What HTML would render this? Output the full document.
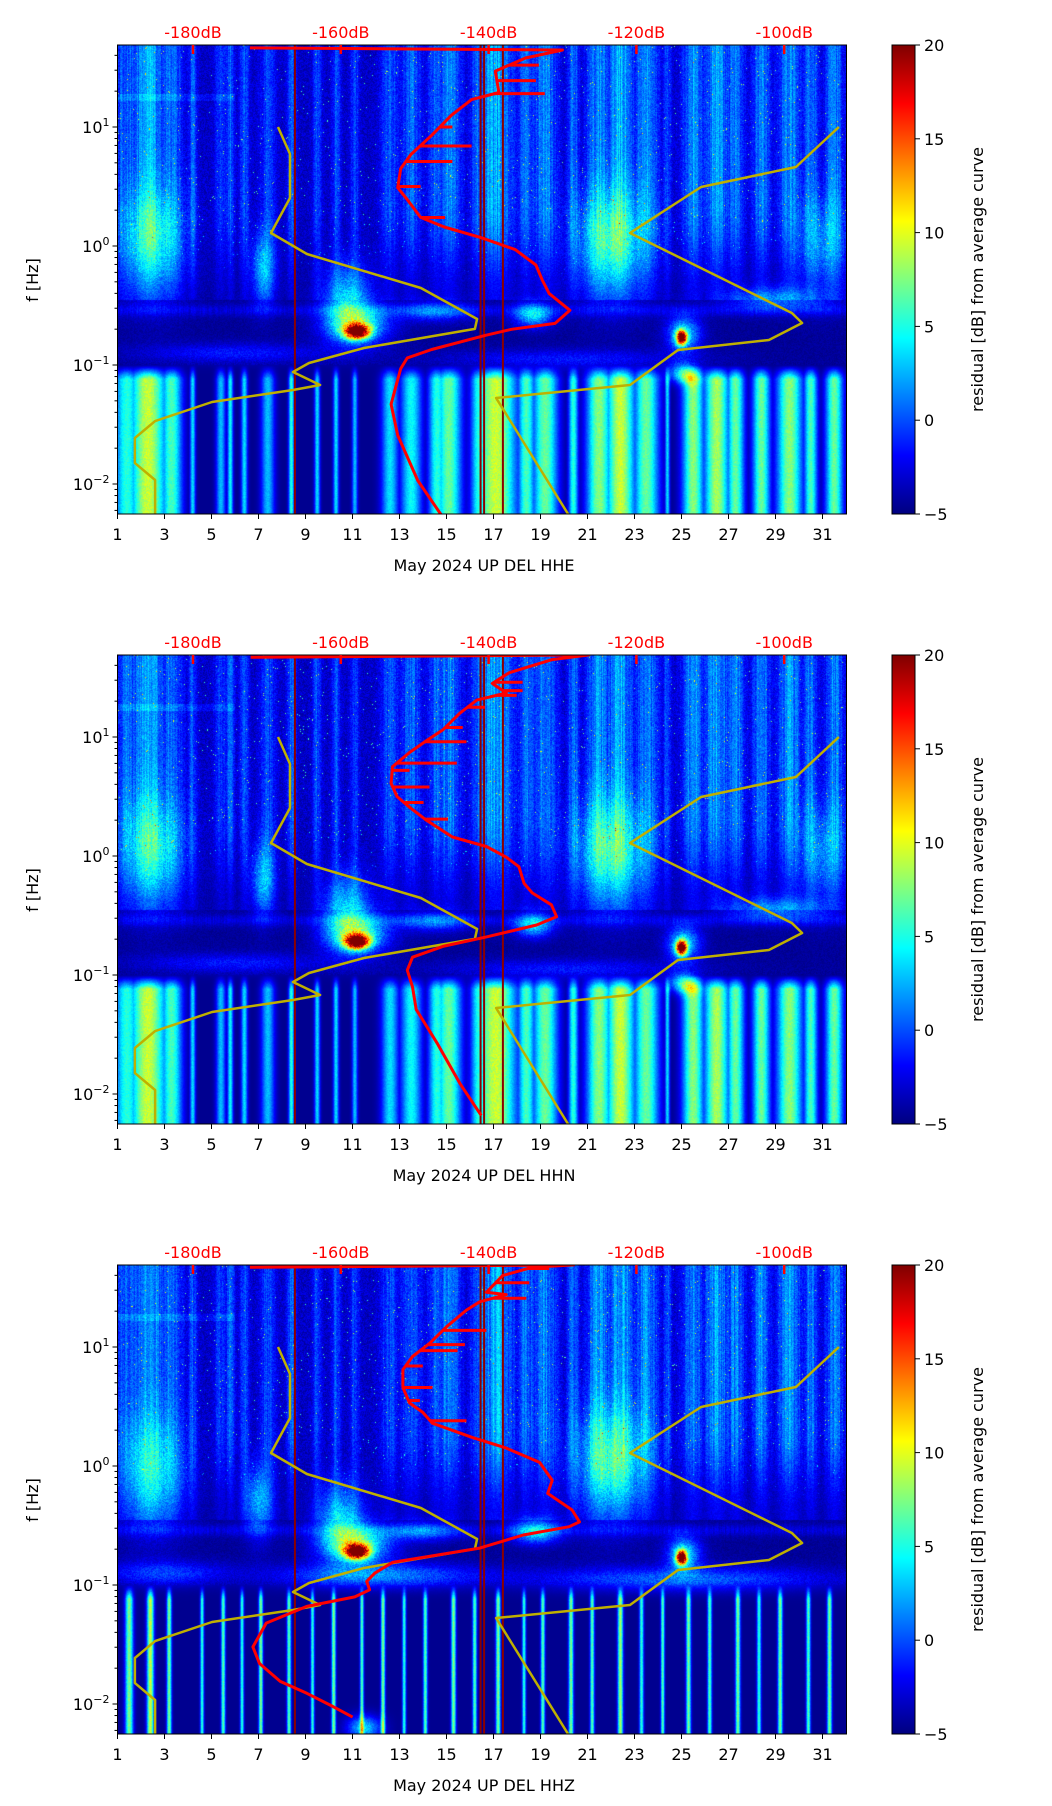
<!DOCTYPE html>
<html><head><meta charset="utf-8">
<style>
html,body{margin:0;padding:0;background:#fff;}
#wrap{position:relative;width:1052px;height:1806px;overflow:hidden;font-family:"DejaVu Sans","Liberation Sans",sans-serif;}
canvas{position:absolute;}
svg{position:absolute;left:0;top:0;}
</style></head>
<body>
<div id="wrap">
<canvas id="c0" width="730" height="469" style="left:117px;top:45px"></canvas>
<canvas id="c1" width="730" height="469" style="left:117px;top:655px"></canvas>
<canvas id="c2" width="730" height="469" style="left:117px;top:1265px"></canvas>
<svg id="svg" width="1052" height="1806" xmlns="http://www.w3.org/2000/svg">
<defs>
<linearGradient id="jet" x1="0" y1="0" x2="0" y2="1">
<stop offset="0" stop-color="#7f0000"/><stop offset="0.125" stop-color="#ff0000"/>
<stop offset="0.375" stop-color="#ffff00"/><stop offset="0.625" stop-color="#00ffff"/>
<stop offset="0.875" stop-color="#0000ff"/><stop offset="1" stop-color="#00007f"/>
</linearGradient>
</defs>
</svg>
</div>
<script>
// ---------- data ----------
const panelTitles = ["May 2024 UP DEL  HHE", "May 2024 UP DEL  HHN", "May 2024 UP DEL  HHZ"];
const dayTicks = [1,3,5,7,9,11,13,15,17,19,21,23,25,27,29,31];
const dbTicks = [-180,-160,-140,-120,-100];
const cbTicks = [20,15,10,5,0,-5];
const decadeTicks = [1,0,-1,-2];

const stripeDay1 = [1.4,2.3,3.3,4.2,5.4,5.8,6.4,7.4,8.4,9.5,10.3,11.1,12.6,13.5,14.6,15.1,16.4,17.1,18.4,19.2,20.4,21.5,22.4,23.5,24.4,25.5,26.5,27.3,28.4,29.6,30.5,31.5];
const stripeW1   = [0.3,0.45,0.25,0.05,0.1,0.05,0.06,0.15,0.05,0.05,0.05,0.05,0.2,0.25,0.2,0.3,0.2,0.5,0.2,0.3,0.1,0.3,0.35,0.3,0.04,0.25,0.3,0.2,0.2,0.3,0.15,0.2];
const stripeV1   = [12,17,13,10,9,11,10,9,12,10,10,9,10,11,12,14,12,17,13,14,12,15,17,14,10,15,16,14,14,15,13,14];
const stripeDay3 = [1.5,2.4,3.2,4.6,5.5,6.3,7.1,8.3,9.3,10.2,11.4,12.3,13.2,14.1,15.3,16.2,17.2,18.3,19.1,20.3,21.2,22.4,23.3,24.2,25.3,26.2,27.4,28.3,29.2,30.4,31.3];
const stripeW3   = [0.12,0.1,0.06,0.04,0.05,0.04,0.05,0.05,0.04,0.05,0.04,0.05,0.04,0.05,0.06,0.05,0.06,0.04,0.05,0.06,0.05,0.07,0.05,0.04,0.06,0.05,0.06,0.05,0.06,0.05,0.06];
const stripeV3   = [12,14,12,10,11,10,12,11,10,12,11,12,10,11,12,11,12,10,11,12,11,13,10,11,12,11,12,10,12,11,12];

const blobDay1 = [2.5,7.2,10.8,11.2,11.2,14.5,18.7,22.0,25.0,25.1,25.1,29.0,31.0,6.0,20.0];
const blobLf1  = [0.0,-0.2,-0.45,-0.72,-0.66,-0.55,-0.58,0.0,-0.77,-0.74,-1.07,-0.45,0.0,-0.9,-0.95];
const blobSd1  = [1.3,0.5,1.0,0.5,1.3,1.5,0.8,1.5,0.22,0.7,0.6,2.0,1.0,4.0,5.0];
const blobSf1  = [0.45,0.3,0.3,0.06,0.15,0.08,0.1,0.45,0.06,0.15,0.08,0.1,0.4,0.08,0.08];
const blobA1   = [6,6,7,24,9,5,8,7,24,8,9,5,4,3,3];
const blobDay3 = [2.5,7.0,10.5,11.2,11.2,14.0,18.8,22.0,25.0,25.1,12.0,25.0,11.5,3.0];
const blobLf3  = [-0.1,-0.3,-0.45,-0.72,-0.66,-0.55,-0.55,0.0,-0.77,-0.74,-0.92,-0.95,-2.2,-0.9];
const blobSd3  = [1.3,0.6,1.0,0.5,1.4,1.5,1.0,1.5,0.22,0.7,4.0,6.0,0.7,2.5];
const blobSf3  = [0.45,0.3,0.3,0.06,0.15,0.08,0.1,0.45,0.06,0.15,0.1,0.1,0.1,0.1];
const blobA3   = [6,6,7,24,10,5,8,7,24,8,6,5,8,4];

const vlineDays = [8.55,16.45,16.6,17.4];

const redDB1 = [-172.3,-130.0,-135,-139.1,-138.6,-142.3,-145,-147.7,-150.5,-151.9,-152.3,-151,-149.2,-146,-141,-136.4,-133.6,-132.7,-131.8,-129,-131,-136.9,-140.4,-147.7,-151,-151.9,-152.5,-153.2,-152.3,-149.6,-146.4];
const redLF1 = [1.665,1.647,1.58,1.47,1.29,1.23,1.10,0.93,0.77,0.65,0.49,0.39,0.24,0.16,0.07,-0.03,-0.16,-0.29,-0.40,-0.54,-0.65,-0.70,-0.75,-0.87,-0.94,-1.03,-1.17,-1.33,-1.59,-1.97,-2.26];
const spikeLF1 = [1.52,1.39,1.28,1.0,0.84,0.71,0.50,0.24];
const spikeDB1 = [-133.2,-133.6,-132.4,-144.9,-142.3,-144.9,-149.2,-145.9];

const redDB2 = [-172.2,-126.4,-131.4,-137.2,-139.5,-137.6,-141.6,-143.9,-146.2,-148.4,-150.7,-153.0,-153.2,-152.4,-150.7,-148.4,-144.9,-140.3,-137.6,-135.9,-135.2,-134.1,-131.5,-130.8,-133.5,-140.3,-146.2,-150.3,-151.0,-150.3,-149.8,-147.0,-143.9,-141.0];
const redLF2 = [1.67,1.69,1.65,1.54,1.45,1.37,1.31,1.20,1.06,0.97,0.87,0.75,0.61,0.50,0.41,0.30,0.16,0.08,-0.01,-0.09,-0.23,-0.31,-0.41,-0.51,-0.58,-0.68,-0.76,-0.85,-0.96,-1.10,-1.29,-1.57,-1.91,-2.18];
const spikeLF2 = [1.46,1.39,1.35,1.25,1.08,0.96,0.78,0.58,0.72,0.45,0.31];
const spikeDB2 = [-135.4,-135.4,-136.2,-140.5,-143.5,-143.0,-144.3,-148.0,-150.7,-148.8,-145.5];

const redDB3 = [-172.3,-128.5,-134.1,-138.1,-140.3,-137.6,-141.2,-143.0,-145.7,-148.0,-150.3,-151.6,-151.6,-150.7,-148.9,-147.6,-142.2,-137.6,-133.1,-131.4,-132.0,-128.7,-127.7,-129.1,-135.3,-141.2,-153.0,-155.4,-156.5,-156.1,-158.1,-164.6,-170.1,-171.9,-171.0,-168.2,-164.6,-161.1,-158.4];
const redLF3 = [1.67,1.69,1.67,1.60,1.46,1.44,1.38,1.31,1.17,1.03,0.92,0.81,0.66,0.53,0.45,0.36,0.24,0.15,0.03,-0.12,-0.23,-0.37,-0.47,-0.51,-0.58,-0.69,-0.81,-0.90,-0.97,-1.04,-1.10,-1.18,-1.32,-1.52,-1.66,-1.81,-1.91,-2.02,-2.11];
const spikeLF3 = [1.66,1.54,1.41,1.14,1.02,0.97,0.84,0.66,0.55,0.38];
const spikeDB3 = [-131.8,-134.5,-134.9,-140.3,-143.2,-144.2,-148.9,-147.6,-149.3,-143.0];

const yelDayA = [7.83,8.34,8.34,7.53,9.06,13.91,16.30,16.21,11.49,9.15,8.47,9.62,8.47,5.02,2.60,1.74,1.74,2.60,2.60];
const yelLfA  = [1.0,0.773,0.403,0.109,-0.067,-0.353,-0.613,-0.697,-0.857,-0.983,-1.059,-1.168,-1.210,-1.311,-1.471,-1.613,-1.824,-1.966,-2.26];
const yelDayB = [31.70,29.87,25.83,22.81,29.70,30.13,28.72,24.85,22.81,17.11,20.26];
const yelLfB  = [1.0,0.664,0.496,0.109,-0.563,-0.647,-0.790,-0.874,-1.168,-1.277,-2.28];

// ---------- scales ----------
const L = 117.5, W = 729, H = 469;
const TOPS = [45, 655, 1265];
const LFMAX = 1.689, LFMIN = -2.252;
function xDay(d){ return L + (d-1)*23.5; }
function yLf(lf, top){ return top + (LFMAX-lf)/(LFMAX-LFMIN)*H; }
function xDB(db){ return 193 + (db+180)*7.39; }
function yCb(v, top){ return top + H - (v+5)/25*H; }

// ---------- background spectrogram ----------
function hash(x,y){ let h = (x*374761393 + y*668265263) | 0; h = (h ^ (h>>>13)) * 1274126177 | 0; h = h ^ (h>>>16); return (h>>>0)/4294967296; }
function jet(t){
  t = Math.max(0, Math.min(1, t));
  const c = v => Math.max(0, Math.min(1, v));
  return [c(1.5-Math.abs(4*t-3))*255, c(1.5-Math.abs(4*t-2))*255, c(1.5-Math.abs(4*t-1))*255];
}
function drawSpec(idx){
  const cv = document.getElementById('c'+idx), ctx = cv.getContext('2d');
  const img = ctx.createImageData(730, 469);
  const low3 = idx===2;
  const sD = low3 ? stripeDay3 : stripeDay1, sW = low3 ? stripeW3 : stripeW1, sV = low3 ? stripeV3 : stripeV1;
  const bD = low3 ? blobDay3 : blobDay1, bL = low3 ? blobLf3 : blobLf1, bS = low3 ? blobSd3 : blobSd1, bF = low3 ? blobSf3 : blobSf1, bA = low3 ? blobA3 : blobA1;
  const colS = [], colH = [], colN = [];
  for (let px=0; px<730; px++){
    const d = 1 + (px+117-L+0.5)/23.5;
    let s=0, sh=0;
    const wm = low3 ? 1.0 : 1.5;
    for (let k=0;k<sD.length;k++){ const u=(d-sD[k])/(sW[k]*wm+0.03); if (Math.abs(u)<4){ const e=sV[k]*Math.exp(-u*u*0.8); if(e>s)s=e; } }
    for (let k=0;k<stripeDay1.length;k++){ const u=(d-stripeDay1[k])/(stripeW1[k]*1.4+0.12); if (Math.abs(u)<3){ const e=stripeV1[k]*Math.exp(-u*u); if(e>sh)sh=e; } }
    colS.push(s*(low3?1.0:0.82)); colH.push(sh); colN.push(hash(px*7+idx, 99));
  }
  for (let py=0; py<469; py++){
    const lf = LFMAX - (py+0.5)/H*(LFMAX-LFMIN);
    for (let px=0; px<730; px++){
      const d = 1 + (px+117-L+0.5)/23.5;
      const h = hash(px+idx*1000, py);
      let hi = -3.3 + 0.33*colH[px]*(0.7+0.6*colN[px]) + (h-0.5)*2.4;
      if (h > 0.994) hi += 8;
      if (lf > 1.22 && lf < 1.28 && d < 6) hi += 1.2;
      let v;
      if (lf > 0.35){
        v = hi;
      } else if (lf > -0.45){
        const f = (lf+0.45)/0.8, ff = f*f*(3-2*f);
        v = ff*hi + (1-ff)*(-4.0 + (h-0.5)*1.2 + 0.12*colH[px]);
      } else if (lf > -1.0){
        v = -4.4 + (h-0.5)*1.0 + 2.2*Math.exp(-Math.pow((lf+0.54)/0.05,2))*(0.5+0.5*colN[px]);
      } else {
        const fade = Math.min(1, (-1.0-lf)/0.12);
        v = -4.6 + colS[px]*fade*(0.92+0.16*h);
      }
      for (let k=0;k<bD.length;k++){
        const u=(d-bD[k])/bS[k], w=(lf-bL[k])/bF[k];
        const q=u*u+w*w; if (q<9) v += bA[k]*Math.exp(-q)*(0.85+0.3*h);
      }
      const c = jet((v+5)/25), o = (py*730+px)*4;
      img.data[o]=c[0]; img.data[o+1]=c[1]; img.data[o+2]=c[2]; img.data[o+3]=255;
    }
  }
  ctx.putImageData(img,0,0);
}
[0,1,2].forEach(drawSpec);

// ---------- SVG overlay ----------
const NS = "http://www.w3.org/2000/svg";
const svg = document.getElementById('svg');
function mk(tag, attrs, parent){ const e=document.createElementNS(NS,tag); for (const k in attrs) e.setAttribute(k, attrs[k]); (parent||svg).appendChild(e); return e; }
function interpDB(lf, dbs, lfs){
  for (let i=1;i<lfs.length-1;i++){
    const a=lfs[i], b=lfs[i+1];
    if ((lf<=a && lf>=b) || (lf>=a && lf<=b)){ const t=(lf-a)/((b-a)||1); return dbs[i]+t*(dbs[i+1]-dbs[i]); }
  }
  return dbs[1];
}
const reds = [[redDB1,redLF1,spikeLF1,spikeDB1],[redDB2,redLF2,spikeLF2,spikeDB2],[redDB3,redLF3,spikeLF3,spikeDB3]];

for (let p=0;p<3;p++){
  const top = TOPS[p];
  const g = mk('g', {});
  
  
  const clipId = 'clip'+p;
  const cp = mk('clipPath', {id: clipId}, g);
  mk('rect', {x:L, y:top, width:W, height:H}, cp);
  const plot = mk('g', {'clip-path':'url(#'+clipId+')'}, g);

  vlineDays.forEach(d => {
    const ln = mk('line', {x1:xDay(d), x2:xDay(d), y1:top, y2:top+H, stroke:'#8b0000', 'stroke-width':2}, plot);
    
    
  });

  [[yelDayA,yelLfA],[yelDayB,yelLfB]].forEach((arr,i) => {
    const pts = arr[0].map((d,k) => xDay(d).toFixed(1)+','+yLf(arr[1][k],top).toFixed(1)).join(' ');
    const pl = mk('polyline', {points:pts, fill:'none', stroke:'#bfb000', 'stroke-width':2.5, 'stroke-linejoin':'round'}, plot);
    
    
  });

  const [dbs, lfs, sLf, sDb] = reds[p];
  const rp = dbs.map((db,k) => xDB(db).toFixed(1)+','+yLf(lfs[k],top).toFixed(1)).join(' ');
  const rl = mk('polyline', {points:rp, fill:'none', stroke:'#ff0000', 'stroke-width':3, 'stroke-linejoin':'round'}, plot);
  
  
  sLf.forEach((lf,k) => {
    const base = interpDB(lf, dbs, lfs);
    const sl = mk('line', {x1:xDB(base), x2:xDB(sDb[k]), y1:yLf(lf,top), y2:yLf(lf,top), stroke:'#ff0000', 'stroke-width':3}, plot);
    
    
  });

  const fr = mk('rect', {x:L, y:top, width:W, height:H, fill:'none', stroke:'#000', 'stroke-width':1}, g);
  
  

  dayTicks.forEach(d => {
    mk('line', {x1:xDay(d), x2:xDay(d), y1:top+H, y2:top+H+5, stroke:'#000', 'stroke-width':1}, g);
    const t = mk('text', {x:xDay(d), y:top+H+26, 'text-anchor':'middle', 'font-size':16, fill:'#000'}, g);
    t.textContent = d;
    
    
  });
  const xt = mk('text', {x:484, y:top+H+57, 'text-anchor':'middle', 'font-size':16, fill:'#000'}, g);
  xt.textContent = panelTitles[p];
  
  

  for (let dec=-3; dec<=1; dec++){
    for (let m=1; m<=9; m++){
      const lf = dec + Math.log10(m);
      if (lf < LFMIN || lf > LFMAX) continue;
      const y = yLf(lf, top), len = m===1 ? 5 : 3;
      mk('line', {x1:L-len, x2:L, y1:y, y2:y, stroke:'#000', 'stroke-width':1}, g);
    }
  }
  decadeTicks.forEach(dec => {
    const y = yLf(dec, top);
    const t = mk('text', {x:L-8, y:y+6, 'text-anchor':'end', 'font-size':16, fill:'#000'}, g);
    
    
    const a = mk('tspan', {}, t); a.textContent = '10';
    const b = mk('tspan', {'font-size':11, dy:-7}, t); b.textContent = dec<0 ? '\u2212'+(-dec) : String(dec);
  });
  const yt = mk('text', {x:0, y:0, 'text-anchor':'middle', 'font-size':16, fill:'#000', transform:'translate(38,'+(top+235)+') rotate(-90)'}, g);
  yt.textContent = 'f [Hz]';
  
  

  dbTicks.forEach(db => {
    const x = xDB(db);
    mk('line', {x1:x, x2:x, y1:top, y2:top+9, stroke:'#ff0000', 'stroke-width':2.5}, g);
    const t = mk('text', {x:x, y:top-7, 'text-anchor':'middle', 'font-size':16, fill:'#ff0000'}, g);
    t.textContent = db+'dB';
    
    
  });

  const cb = mk('rect', {x:892, y:top, width:23, height:H, fill:'url(#jet)', stroke:'#000', 'stroke-width':1}, g);
  
  
  cbTicks.forEach(v => {
    const y = yCb(v, top);
    mk('line', {x1:915, x2:920, y1:y, y2:y, stroke:'#000', 'stroke-width':1}, g);
    const t = mk('text', {x:924, y:y+6, 'font-size':16, fill:'#000'}, g);
    t.textContent = v<0 ? '\u2212'+(-v) : String(v);
    
    
  });
  const ct = mk('text', {x:0, y:0, 'text-anchor':'middle', 'font-size':16, fill:'#000', transform:'translate(983,'+(top+H/2)+') rotate(-90)'}, g);
  ct.textContent = 'residual [dB] from average curve';
  
  
}
</script>
</body></html>
